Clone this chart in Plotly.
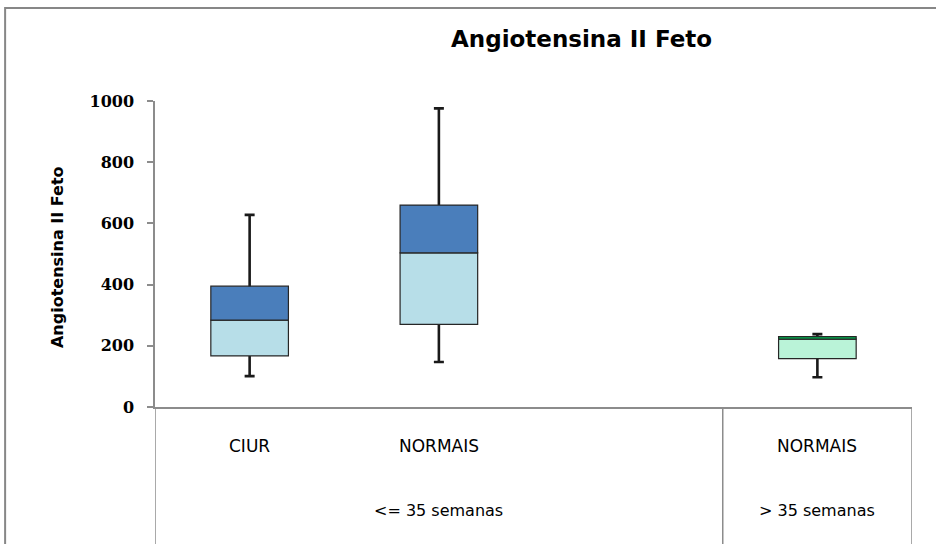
import plotly.graph_objects as go

# ---- data ----
categories = ["CIUR", "NORMAIS", "NORMAIS"]
group_labels = ["<= 35 semanas", "> 35 semanas"]
minimum = [101, 147, 97]
q1 = [167, 270, 158]
median = [284, 504, 222]
q3 = [395, 660, 230]
maximum = [628, 976, 238]
y_ticks = [0, 200, 400, 600, 800, 1000]

# ---- layout helpers (category slots on a 4-slot axis, slot 2 empty) ----
slots = [0, 1, 3]
n_slots = 4
xpos = [s + 0.5 for s in slots]
group_spans = [(0, 3), (3, 4)]

lower_colors = ["#B7DEE8", "#B7DEE8", "#BAF3D8"]
upper_colors = ["#4A7EBB", "#4A7EBB", "#00B050"]
edge = dict(color="#262626", width=1.2)
bar_w = 0.41

fig = go.Figure()

# whiskers: error bars hung on an invisible bar reaching the median
fig.add_trace(go.Bar(
    x=xpos, y=median, base=0, width=bar_w,
    marker=dict(color="rgba(0,0,0,0)", line=dict(width=0)),
    error_y=dict(type="data", symmetric=False,
                 array=[mx - md for mx, md in zip(maximum, median)],
                 arrayminus=[md - mn for md, mn in zip(median, minimum)],
                 color="#1a1a1a", thickness=2.6, width=5),
    hoverinfo="skip", showlegend=False))

# lower part of box (Q1 -> median)
fig.add_trace(go.Bar(
    x=xpos, y=[m - a for m, a in zip(median, q1)], base=q1, width=bar_w,
    marker=dict(color=lower_colors, line=edge), showlegend=False))

# upper part of box (median -> Q3)
fig.add_trace(go.Bar(
    x=xpos, y=[b - m for b, m in zip(q3, median)], base=median, width=bar_w,
    marker=dict(color=upper_colors, line=edge), showlegend=False))

axis_gray = "#8C8C8C"

fig.update_layout(
    width=936, height=544, autosize=False,
    margin=dict(l=155, r=24, t=101, b=137, pad=0),
    paper_bgcolor="white", plot_bgcolor="white",
    barmode="overlay", showlegend=False,
    xaxis=dict(range=[0, n_slots], showline=True, linecolor=axis_gray, linewidth=1.5,
               showticklabels=False, ticks="", showgrid=False, zeroline=False,
               fixedrange=True),
    yaxis=dict(range=[0, 1000], tickvals=y_ticks, showline=True, linecolor=axis_gray,
               linewidth=1.5, ticks="outside", ticklen=6, tickwidth=1.5,
               tickcolor=axis_gray, showgrid=False, zeroline=False,
               ticklabelstandoff=10,
               tickfont=dict(family="DejaVu Serif", size=16, color="black", weight="bold")),
)

# chart title
fig.add_annotation(text="<b>Angiotensina II Feto</b>", xref="paper", yref="paper",
                   x=0.564, y=1.203, showarrow=False, xanchor="center", yanchor="middle",
                   font=dict(family="DejaVu Sans", size=23, color="black"))
# y axis title
fig.add_annotation(text="<b>Angiotensina II Feto</b>", xref="paper", yref="paper",
                   x=-0.1295, y=0.49, showarrow=False, textangle=-90,
                   xanchor="center", yanchor="middle",
                   font=dict(family="DejaVu Sans", size=16, color="black"))

# category labels
for x, lab in zip(xpos, categories):
    fig.add_annotation(text=lab, x=x, xref="x", y=-0.127, yref="paper",
                       showarrow=False, xanchor="center", yanchor="middle",
                       font=dict(family="DejaVu Sans", size=17, color="black"))
# group labels and table lines
for (a, b), lab in zip(group_spans, group_labels):
    fig.add_annotation(text=lab, x=(a + b) / 2, xref="x", y=-0.337, yref="paper",
                       showarrow=False, xanchor="center", yanchor="middle",
                       font=dict(family="DejaVu Sans", size=16, color="black"))
for xb in [0, 3, 4]:
    fig.add_shape(type="line", xref="x", yref="paper", x0=xb, x1=xb, y0=0, y1=-0.6,
                  line=dict(color=axis_gray, width=1.5), layer="above")

# outer chart frame
fig.add_shape(type="rect", xref="paper", yref="paper", x0=-0.198, x1=1.3,
              y0=-0.7, y1=1.304, line=dict(color="#878787", width=2))

fig.write_html("out.html", config={"displayModeBar": False},
               post_script="document.body.style.margin='0';document.body.style.overflow='hidden';")
